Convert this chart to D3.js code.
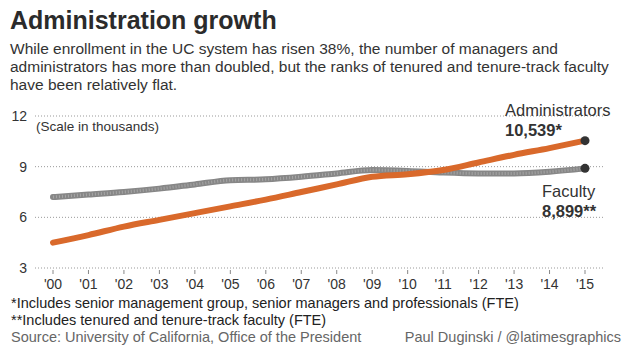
<!DOCTYPE html>
<html>
<head>
<meta charset="utf-8">
<script src="https://cdnjs.cloudflare.com/ajax/libs/d3/7.8.5/d3.min.js"></script>
<style>
  body { margin: 0; background: #fff; }
  svg { font-family: "Liberation Sans", Arial, sans-serif; }
</style>
</head>
<body>
<svg id="chart" width="630" height="354"></svg>
<script>
// data (thousands)
let years = ["'00","'01","'02","'03","'04","'05","'06","'07","'08","'09","'10","'11","'12","'13","'14","'15"];
let faculty = [7.2, 7.35, 7.5, 7.7, 7.95, 8.2, 8.25, 8.4, 8.6, 8.8, 8.75, 8.65, 8.6, 8.6, 8.7, 8.899];
let admins = [4.5, 4.95, 5.45, 5.85, 6.25, 6.65, 7.05, 7.5, 7.95, 8.4, 8.55, 8.8, 9.25, 9.7, 10.1, 10.539];
let yTicks = [3, 6, 9, 12];

let svg = d3.select('#chart');

let x = d3.scalePoint().domain(years).range([53, 585]);
let y = d3.scaleLinear().domain([3, 12]).range([268, 116]);

// title and intro
svg.append('text').attr('x', 10).attr('y', 29)
    .attr('font-size', '25px').attr('font-weight', 'bold').attr('fill', '#2b2b2b')
    .text('Administration growth');

let intro = [
    'While enrollment in the UC system has risen 38%, the number of managers and',
    'administrators has more than doubled, but the ranks of tenured and tenure-track faculty',
    'have been relatively flat.'
];
svg.selectAll('.intro').data(intro).join('text')
    .attr('class', 'intro')
    .attr('x', 10).attr('y', (d, i) => 54 + i * 18)
    .attr('font-size', '15.5px').attr('fill', '#333')
    .text(d => d);

// gridlines
svg.selectAll('.grid').data(yTicks).join('line')
    .attr('class', 'grid')
    .attr('x1', 35).attr('x2', 603)
    .attr('y1', d => y(d)).attr('y2', d => y(d))
    .attr('stroke', '#999').attr('stroke-width', 1).attr('stroke-dasharray', '1,2');

svg.selectAll('.ylab').data(yTicks).join('text')
    .attr('class', 'ylab')
    .attr('x', 27).attr('y', d => y(d) + 5)
    .attr('text-anchor', 'end').attr('font-size', '14px').attr('fill', '#333')
    .text(d => d);

svg.append('text').attr('x', 36).attr('y', 131)
    .attr('font-size', '13.5px').attr('fill', '#333')
    .text('(Scale in thousands)');

// x axis ticks and labels
svg.selectAll('.xtick').data(years).join('line')
    .attr('class', 'xtick')
    .attr('x1', d => x(d)).attr('x2', d => x(d))
    .attr('y1', 270).attr('y2', 274)
    .attr('stroke', '#888');

svg.selectAll('.xlab').data(years).join('text')
    .attr('class', 'xlab')
    .attr('x', d => x(d)).attr('y', 289)
    .attr('text-anchor', 'middle').attr('font-size', '14px').attr('fill', '#333')
    .text(d => d);

// lines
let line = d3.line()
    .x((d, i) => x(years[i]))
    .y(d => y(d))
    .curve(d3.curveMonotoneX);

svg.append('path').datum(faculty)
    .attr('d', line).attr('fill', 'none')
    .attr('stroke', '#878787').attr('stroke-width', 6).attr('stroke-linecap', 'round');

// speckled texture on the faculty line
svg.append('path').datum(faculty)
    .attr('d', line).attr('fill', 'none')
    .attr('stroke', '#a6a6a6').attr('stroke-width', 3).attr('stroke-dasharray', '1,2');

svg.append('path').datum(admins)
    .attr('d', line).attr('fill', 'none')
    .attr('stroke', '#d9692b').attr('stroke-width', 6).attr('stroke-linecap', 'round');

// end dots
let last = years.length - 1;
svg.selectAll('.enddot').data([faculty[last], admins[last]]).join('circle')
    .attr('class', 'enddot')
    .attr('cx', x(years[last])).attr('cy', d => y(d))
    .attr('r', 4.5).attr('fill', '#333');

// labels
svg.append('text').attr('x', 505).attr('y', 116)
    .attr('font-size', '16.5px').attr('fill', '#333').text('Administrators');
svg.append('text').attr('x', 505).attr('y', 136)
    .attr('font-size', '16.5px').attr('font-weight', 'bold').attr('fill', '#333')
    .text(d3.format(',')(Math.round(admins[last] * 1000)) + '*');
svg.append('text').attr('x', 542).attr('y', 197)
    .attr('font-size', '16.5px').attr('fill', '#333').text('Faculty');
svg.append('text').attr('x', 542).attr('y', 217)
    .attr('font-size', '16.5px').attr('font-weight', 'bold').attr('fill', '#333')
    .text(d3.format(',')(Math.round(faculty[last] * 1000)) + '**');

// footnotes
svg.append('text').attr('x', 11).attr('y', 308)
    .attr('font-size', '14.5px').attr('fill', '#222')
    .text('*Includes senior management group, senior managers and professionals (FTE)');
svg.append('text').attr('x', 11).attr('y', 325)
    .attr('font-size', '14.5px').attr('fill', '#222')
    .text('**Includes tenured and tenure-track faculty (FTE)');
svg.append('text').attr('x', 11).attr('y', 342)
    .attr('font-size', '14.5px').attr('fill', '#666')
    .text('Source: University of California, Office of the President');
svg.append('text').attr('x', 621).attr('y', 342)
    .attr('text-anchor', 'end')
    .attr('font-size', '14.5px').attr('fill', '#666')
    .text('Paul Duginski / @latimesgraphics');
</script>
</body>
</html>
